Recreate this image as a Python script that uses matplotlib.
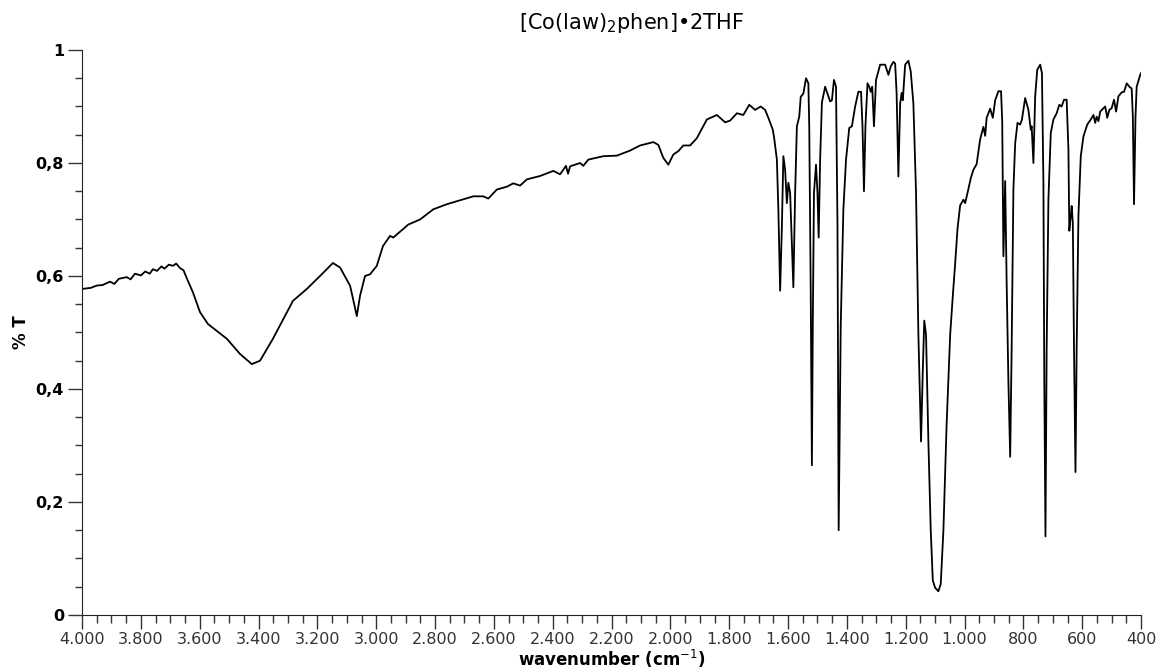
import matplotlib
matplotlib.use("Agg")
import matplotlib.pyplot as plt
from matplotlib.ticker import MultipleLocator, FuncFormatter

# ---- data ----
wavenumber = [
    4000, 3970, 3950, 3930, 3905, 3890, 3875, 3848, 3835, 3820, 3800, 3785, 3770,
    3759, 3745, 3730, 3720, 3705, 3691, 3680, 3667, 3655, 3644, 3623, 3599, 3572,
    3508, 3463, 3423, 3395, 3351, 3283, 3236, 3191, 3147, 3123, 3089, 3079, 3066,
    3055, 3038, 3021, 2998, 2977, 2953, 2942, 2891, 2851, 2806, 2760, 2715, 2670,
    2636, 2619, 2590, 2556, 2534, 2511, 2488, 2443, 2398, 2375, 2364, 2355, 2348,
    2341, 2307, 2296, 2279, 2228, 2182, 2137, 2103, 2058, 2041, 2024, 2007, 1990,
    1973, 1956, 1933, 1910, 1876, 1842, 1814, 1797, 1774, 1752, 1732, 1712, 1693,
    1678, 1667, 1652, 1648, 1638, 1633, 1627, 1621, 1616, 1610, 1604, 1599, 1593,
    1582, 1576, 1570, 1562, 1557, 1548, 1539, 1531, 1528, 1523, 1519, 1516, 1512,
    1505, 1500, 1496, 1491, 1485, 1474, 1468, 1457, 1451, 1444, 1437, 1432, 1428,
    1421, 1412, 1403, 1392, 1383, 1372, 1361, 1352, 1347, 1342, 1337, 1330, 1324,
    1319, 1314, 1308, 1301, 1287, 1270, 1259, 1251, 1242, 1236, 1231, 1225, 1219,
    1214, 1210, 1202, 1191, 1183, 1174, 1165, 1157, 1148, 1142, 1137, 1131, 1123,
    1115, 1108, 1100, 1089, 1081, 1072, 1061, 1049, 1040, 1032, 1024, 1015, 1004,
    998, 990, 979, 970, 959, 947, 936, 930, 925, 913, 904, 896, 885, 876, 872,
    868, 862, 857, 851, 845, 840, 834, 828, 820, 811, 805, 794, 783, 775, 772,
    766, 760, 753, 743, 737, 732, 729, 725, 721, 715, 707, 698, 687, 678, 670,
    662, 653, 647, 644, 639, 636, 632, 628, 623, 619, 613, 605, 596, 583, 571,
    562, 556, 551, 545, 539, 522, 515, 508, 500, 492, 485, 477, 466, 458, 449,
    438, 432, 428, 424, 419, 415, 403, 400,
]
transmittance = [
    0.577, 0.579, 0.583, 0.584, 0.590, 0.586, 0.595, 0.598, 0.594, 0.604, 0.601, 0.608, 0.604,
    0.612, 0.609, 0.617, 0.613, 0.620, 0.618, 0.622, 0.614, 0.610, 0.596, 0.571, 0.536, 0.515,
    0.489, 0.462, 0.444, 0.450, 0.489, 0.556, 0.577, 0.600, 0.623, 0.615, 0.583, 0.560, 0.529,
    0.565, 0.600, 0.603, 0.618, 0.653, 0.671, 0.668, 0.691, 0.700, 0.718, 0.727, 0.734, 0.741,
    0.741, 0.737, 0.753, 0.758, 0.764, 0.760, 0.771, 0.777, 0.786, 0.780, 0.788, 0.795, 0.781,
    0.794, 0.800, 0.795, 0.806, 0.812, 0.813, 0.822, 0.831, 0.837, 0.832, 0.809, 0.797, 0.815,
    0.821, 0.831, 0.831, 0.844, 0.877, 0.885, 0.872, 0.875, 0.888, 0.885, 0.903, 0.894, 0.900,
    0.894, 0.880, 0.859, 0.847, 0.806, 0.718, 0.574, 0.688, 0.812, 0.788, 0.729, 0.765, 0.747,
    0.580, 0.747, 0.865, 0.882, 0.917, 0.923, 0.950, 0.941, 0.865, 0.571, 0.265, 0.512, 0.747,
    0.797, 0.747, 0.668, 0.806, 0.907, 0.935, 0.926, 0.909, 0.911, 0.947, 0.935, 0.688, 0.150,
    0.512, 0.718, 0.806, 0.862, 0.865, 0.900, 0.926, 0.926, 0.865, 0.750, 0.865, 0.941, 0.935,
    0.926, 0.935, 0.865, 0.947, 0.974, 0.974, 0.956, 0.971, 0.979, 0.976, 0.923, 0.776, 0.905,
    0.924, 0.911, 0.974, 0.981, 0.962, 0.905, 0.747, 0.496, 0.307, 0.433, 0.521, 0.496, 0.307,
    0.149, 0.061, 0.048, 0.042, 0.055, 0.149, 0.338, 0.496, 0.565, 0.622, 0.684, 0.725, 0.735,
    0.729, 0.747, 0.773, 0.788, 0.798, 0.842, 0.864, 0.848, 0.880, 0.896, 0.880, 0.911, 0.927, 0.927, 0.873,
    0.635, 0.768, 0.589, 0.412, 0.280, 0.471, 0.753, 0.835, 0.871, 0.868, 0.877, 0.915, 0.894, 0.859, 0.865,
    0.800, 0.918, 0.965, 0.974, 0.959, 0.765, 0.412, 0.139, 0.471, 0.735, 0.853, 0.877, 0.888, 0.903, 0.900,
    0.912, 0.912, 0.824, 0.680, 0.706, 0.724, 0.694, 0.471, 0.253, 0.471, 0.706, 0.812, 0.847, 0.868, 0.877,
    0.885, 0.871, 0.882, 0.874, 0.891, 0.900, 0.880, 0.894, 0.897, 0.912, 0.891, 0.918, 0.925, 0.926, 0.941,
    0.934, 0.932, 0.882, 0.727, 0.882, 0.935, 0.956, 0.959,
]

title = "[Co(law)$_2$phen]\u20222THF"
x_label = "wavenumber (cm$^{-1}$)"
y_label = "% T"

fig = plt.figure(figsize=(11.62, 6.71), dpi=100)
ax = fig.add_axes([0.0706, 0.0835, 0.9114, 0.8420])
ax.plot(wavenumber, transmittance, color="black", lw=1.3)

ax.set_xlim(4000, 400)
ax.set_ylim(0, 1)
ax.xaxis.set_major_locator(MultipleLocator(200))
ax.xaxis.set_minor_locator(MultipleLocator(50))
ax.yaxis.set_major_locator(MultipleLocator(0.2))
ax.yaxis.set_minor_locator(MultipleLocator(0.05))
ax.xaxis.set_major_formatter(FuncFormatter(lambda v, p: f"{int(round(v)):,}".replace(",", ".")))
ax.yaxis.set_major_formatter(FuncFormatter(lambda v, p: ("%g" % round(v, 2)).replace(".", ",")))

for s in ("top", "right"):
    ax.spines[s].set_visible(False)
for s in ("left", "bottom"):
    ax.spines[s].set_color("#222222")
ax.tick_params(axis="both", which="major", direction="out", length=10, width=1, color="#333333")
ax.tick_params(axis="both", which="minor", direction="out", length=6, width=1, color="#333333")
ax.tick_params(axis="y", which="minor", length=5)
ax.tick_params(axis="x", labelsize=11.5, pad=2, labelcolor="#333333")
ax.tick_params(axis="y", labelsize=11.5, pad=3)
for lab in ax.get_yticklabels():
    lab.set_fontweight("bold")

ax.set_title(title, fontsize=15, pad=15, x=0.519)
ax.set_xlabel(x_label, fontsize=12, fontweight="bold", labelpad=1)
ax.set_ylabel(y_label, fontsize=12, fontweight="bold", labelpad=4)

fig.savefig("out.png", dpi=100)
